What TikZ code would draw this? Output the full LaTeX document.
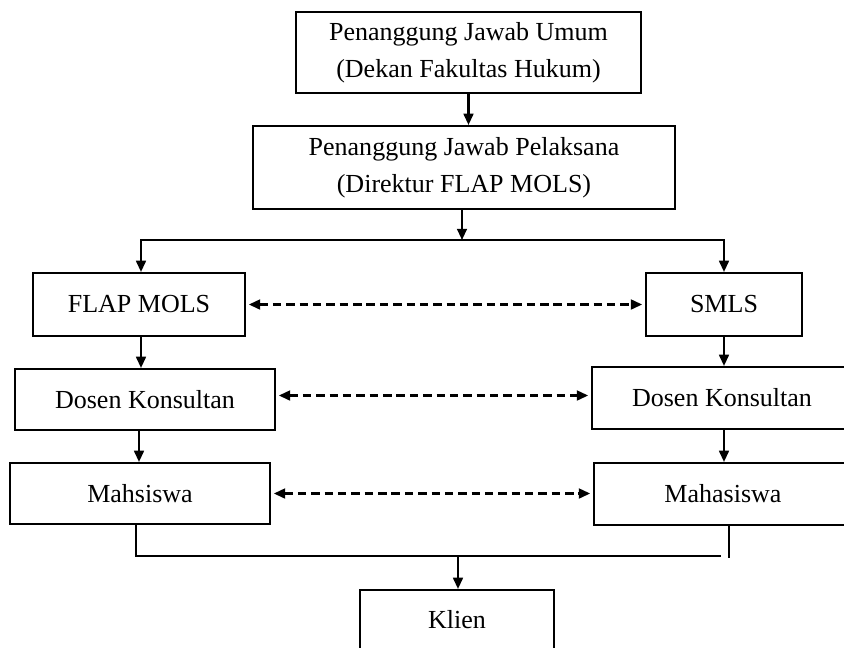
\documentclass[tikz,border=0pt]{standalone}
\usepackage{fontspec}
\setmainfont{Liberation Serif}
\usetikzlibrary{arrows.meta}

\begin{document}
\begin{tikzpicture}[
    x=0.025cm, y=-0.025cm, % Pixel-Raster
    every node/.style={font=\fontsize{18.5}{26.5}\selectfont}, % Schrift der Knoten
    box/.style={draw, line width=1.5pt, align=center, inner sep=0pt}, % Stil der Kaesten
    link/.style={line width=1.5pt, -{Triangle[length=8pt, width=7pt]}}, % Stil der Pfeile
    peer/.style={line width=1.6pt, dash pattern=on 6pt off 3.5pt, {Triangle[length=8pt, width=7pt]}-{Triangle[length=8pt, width=7pt]}, shorten <=2pt, shorten >=2pt} % Stil der gestrichelten Pfeile
]
\useasboundingbox (0,0) rectangle (844,647);
\clip (0,0) rectangle (844,647);

% Leitung
\node[box, minimum width=345*0.025cm, minimum height=81*0.025cm] (umum) at (468.5,52.5) {Penanggung Jawab Umum\\(Dekan Fakultas Hukum)};
\node[box, minimum width=422*0.025cm, minimum height=83*0.025cm] (pelaksana) at (464,167.5) {Penanggung Jawab Pelaksana\\(Direktur FLAP MOLS)};

% linke Spalte
\node[box, minimum width=212*0.025cm, minimum height=63*0.025cm] (flap) at (139,304.5) {FLAP MOLS};
\node[box, minimum width=260*0.025cm, minimum height=61*0.025cm] (dosenL) at (145,399.5) {Dosen Konsultan};
\node[box, minimum width=260*0.025cm, minimum height=61*0.025cm] (mhsL) at (140,493.5) {Mahsiswa};

% rechte Spalte
\node[box, minimum width=156*0.025cm, minimum height=63*0.025cm] (smls) at (724,304.5) {SMLS};
\node[box, minimum width=260*0.025cm, minimum height=62*0.025cm] (dosenR) at (722,398) {Dosen Konsultan};
\node[box, minimum width=258*0.025cm, minimum height=62*0.025cm] (mhsR) at (723,494) {Mahasiswa};

% Klien
\node[box, minimum width=194*0.025cm, minimum height=60*0.025cm] (klien) at (457,620) {Klien};

% Verzweigungspunkte
\coordinate (split) at (462,240);
\coordinate (join) at (458,556);
\coordinate (joinend) at (721,556);

% Verbindungslinien
\draw[link] (umum.south) -- (umum.south |- pelaksana.north);
\draw[link] (pelaksana.south -| split) -- (split);
\draw[link] (split) -| ([xshift=2*0.025cm]flap.north);
\draw[link] (split) -| (smls.north);
\draw[link] ([xshift=2*0.025cm]flap.south) -- ([xshift=2*0.025cm]flap.south |- dosenL.north);
\draw[link] (dosenL.south -| flap.south) -- (mhsL.north -| flap.south);
\draw[link] (smls.south) -- (smls.south |- dosenR.north);
\draw[link] (dosenR.south -| smls.south) -- (mhsR.north -| smls.south);

% Querverbindungen
\draw[peer] (flap.east) -- (smls.west);
\draw[peer] ([yshift=4*0.025cm]dosenL.east) -- ([yshift=4*0.025cm]dosenL.east -| dosenR.west);
\draw[peer] (mhsL.east) -- (mhsL.east -| mhsR.west);

% Zusammenfuehrung
\draw[line width=1.5pt] ([xshift=-4*0.025cm]mhsL.south) |- (joinend);
\draw[line width=1.5pt] ([xshift=6*0.025cm]mhsR.south) -- ++(0,32);
\draw[link] (join) -- (join |- klien.north);

\end{tikzpicture}
\end{document}
